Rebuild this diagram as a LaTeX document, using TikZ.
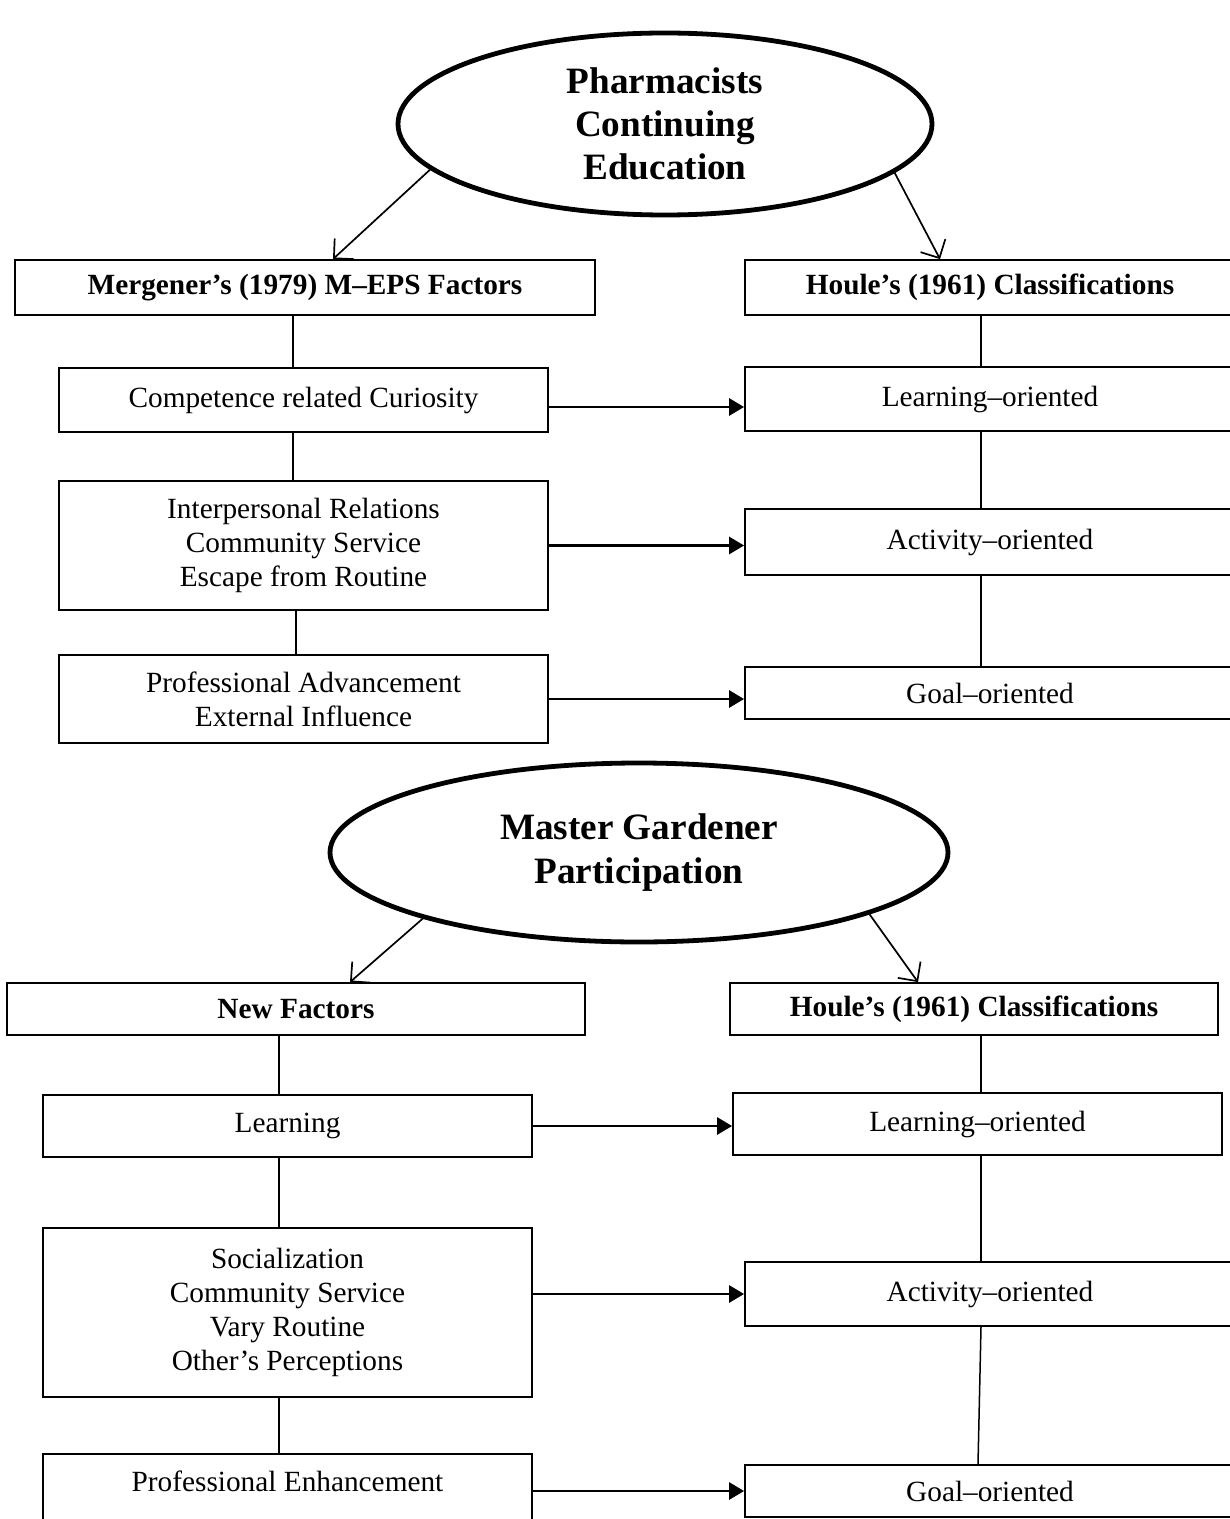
\documentclass[tikz,border=0pt]{standalone}
\usepackage{fontspec}
\setmainfont{Liberation Serif}
\usetikzlibrary{shapes.geometric,arrows.meta,calc}
\begin{document}
\begin{tikzpicture}[x=0.5pt,y=-0.5pt,
 box/.style={draw,line width=0.9pt,rectangle,inner sep=2pt,align=center,font=\fontsize{14.65}{17}\selectfont},
 hbox/.style={box,font=\fontsize{14.65}{17}\selectfont\bfseries},
 oval/.style={draw,ellipse,line width=2.4pt,inner sep=0pt,align=center,font=\fontsize{18.6}{21.6}\selectfont\bfseries},
 link/.style={line width=0.75pt},
 harrow/.style={line width=1.4pt,-{Triangle[length=7.5pt,width=8.5pt]}},
 darrow/.style={line width=0.85pt,-{Straight Barb[length=7pt,width=14pt]}}]
\clip (0,0) rectangle (1230,1519);
\fill[white] (0,0) rectangle (1230,1519);

% ---------- top part ----------
\node[oval,minimum width=267pt,minimum height=91pt] (e1) at (665,124) {Pharmacists\\Continuing\\Education};
\node[hbox,minimum width=290pt,minimum height=27.5pt] (a1) at (305,287.5) {Mergener’s (1979) M–EPS Factors};
\node[hbox,minimum width=245pt,minimum height=27.5pt] (b1) at (990,287.5) {Houle’s (1961) Classifications};
\node[box,minimum width=244.5pt,minimum height=32pt] (a2) at (303.5,400) {Competence related Curiosity};
\node[box,minimum width=245pt,minimum height=32pt] (b2) at (990,399) {Learning–oriented};
\node[box,minimum width=244.5pt,minimum height=64.5pt] (a3) at (303.5,545.5) {Interpersonal Relations\\Community Service\\Escape from Routine};
\node[box,minimum width=245pt,minimum height=33pt] (b3) at (990,542) {Activity–oriented};
\node[box,minimum width=244.5pt,minimum height=44pt] (a4) at (303.5,699) {Professional Advancement\\External Influence};
\node[box,minimum width=245pt,minimum height=26pt] (b4) at (990,693) {Goal–oriented};

\draw[darrow] (e1.191) -- ([xshift=14pt]a1.north);
\draw[darrow] (e1.348) -- ([xshift=-25pt]b1.north);

\coordinate (a2t) at ([xshift=-5.25pt]a2.north);
\coordinate (a3t) at ([xshift=-5.25pt]a3.north);
\coordinate (a4t) at ([xshift=-3.75pt]a4.north);
\draw[link] (a1.south -| a2t) -- (a2t);
\draw[link] (a2.south -| a3t) -- (a3t);
\draw[link] (a3.south -| a4t) -- (a4t);

\coordinate (b2t) at ([xshift=-4.5pt]b2.north);
\coordinate (b3t) at ([xshift=-4.5pt]b3.north);
\coordinate (b4t) at ([xshift=-4.5pt]b4.north);
\draw[link] (b1.south -| b2t) -- (b2t);
\draw[link] (b2.south -| b3t) -- (b3t);
\draw[link] (b3.south -| b4t) -- (b4t);

\coordinate (h1) at ([yshift=-3.5pt]a2.east);
\draw[harrow] (h1) -- (h1 -| b2.west);
\draw[harrow] (a3.east) -- (a3.east -| b3.west);
\draw[harrow] (a4.east) -- (a4.east -| b4.west);

% ---------- bottom part ----------
\node[oval,minimum width=309pt,minimum height=89.5pt] (e2) at (639,852.5) {Master Gardener\\Participation};
\node[hbox,minimum width=289pt,minimum height=26pt] (c1) at (296,1009) {New Factors};
\node[hbox,minimum width=244pt,minimum height=26pt] (d1) at (974,1009) {Houle’s (1961) Classifications};
\node[box,minimum width=244.5pt,minimum height=31pt] (c2) at (287.5,1126) {Learning};
\node[box,minimum width=244.5pt,minimum height=31pt] (d2) at (977.5,1124) {Learning–oriented};
\node[box,minimum width=244.5pt,minimum height=84.5pt] (c3) at (287.5,1312.5) {Socialization\\Community Service\\Vary Routine\\Other’s Perceptions};
\node[box,minimum width=245pt,minimum height=32pt] (d3) at (990,1294) {Activity–oriented};
\node[box,anchor=north,minimum width=244.5pt,text height=10pt,text depth=40pt,inner ysep=9pt] (c4) at (287.5,1453) {Professional Enhancement};
\node[box,minimum width=245pt,minimum height=26pt] (d4) at (990,1491) {Goal–oriented};

\draw[darrow] (e2.197) -- ([xshift=27pt]c1.north);
\draw[darrow] (e2.345) -- ([xshift=-28pt]d1.north);

\coordinate (c2t) at ([xshift=-4.25pt]c2.north);
\coordinate (c3t) at ([xshift=-4.25pt]c3.north);
\coordinate (c4t) at ([xshift=-4.25pt]c4.north);
\draw[link] (c1.south -| c2t) -- (c2t);
\draw[link] (c2.south -| c3t) -- (c3t);
\draw[link] (c3.south -| c4t) -- (c4t);

\coordinate (d2t) at ([xshift=1.75pt]d2.north);
\coordinate (d3t) at ([xshift=-4.5pt]d3.north);
\coordinate (d3b) at ([xshift=-4.5pt]d3.south);
\coordinate (d4t) at ([xshift=-6pt]d4.north);
\draw[link] (d1.south -| d2t) -- (d2t);
\draw[link] (d2.south -| d3t) -- (d3t);
\draw[link] (d3b) -- (d4t);

\draw[harrow] (c2.east) -- (c2.east -| d2.west);
\draw[harrow] (d3.west -| c3.east) -- (d3.west);
\draw[harrow] (d4.west -| c4.east) -- (d4.west);
\end{tikzpicture}
\end{document}
